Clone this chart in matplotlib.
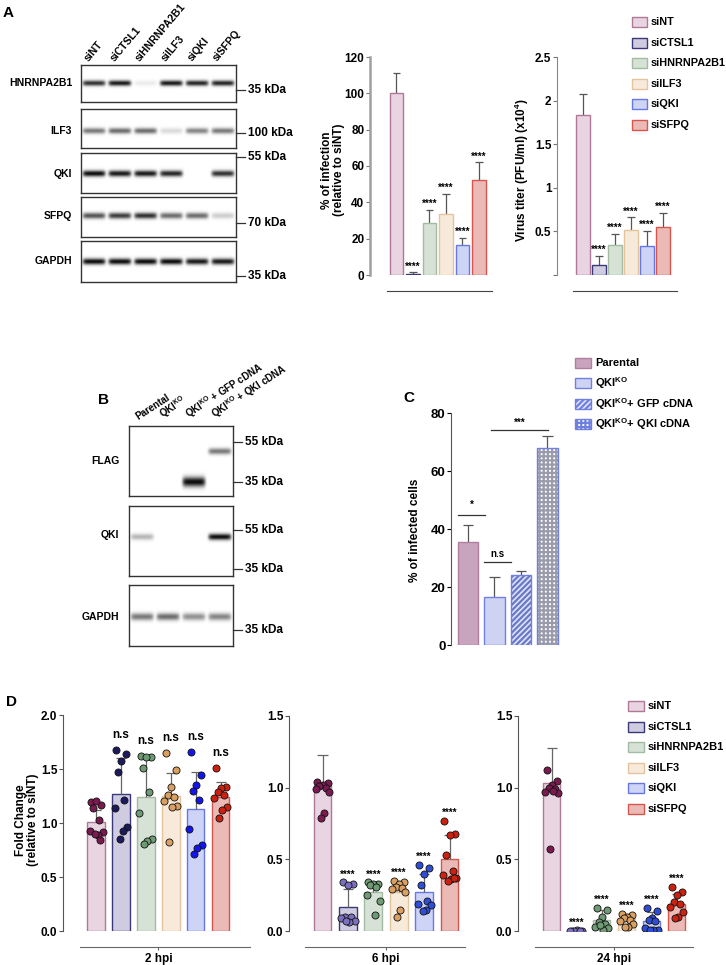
import numpy as np
import matplotlib
matplotlib.use("Agg")
import matplotlib.pyplot as plt
from matplotlib.patches import Rectangle

plt.rcParams['font.family'] = ['Liberation Sans', 'DejaVu Sans']
plt.rcParams['font.weight'] = 'bold'
plt.rcParams['mathtext.fontset'] = 'custom'
plt.rcParams['mathtext.rm'] = 'Liberation Sans:bold'
plt.rcParams['mathtext.it'] = 'Liberation Sans:bold'
plt.rcParams['mathtext.bf'] = 'Liberation Sans:bold'
plt.rcParams['hatch.linewidth'] = 1.6

# ---- data ----
groups = ["siNT", "siCTSL1", "siHNRNPA2B1", "siILF3", "siQKI", "siSFPQ"]

# panel A bar charts
infection_mean = [100, 0.8, 28.5, 33.5, 16.5, 52.5]
infection_sd = [11, 0.6, 7.5, 11, 4, 9.5]
titer_mean = [1.84, 0.12, 0.34, 0.52, 0.33, 0.55]
titer_sd = [0.24, 0.10, 0.13, 0.14, 0.18, 0.16]

# panel A blot band intensities (0 = none, 1 = saturated)
hnrnpa2b1_band = [0.85, 0.95, 0.08, 0.95, 0.9, 0.9]
ilf3_band = [0.55, 0.6, 0.6, 0.15, 0.5, 0.55]
qki_band = [1.0, 0.95, 0.95, 0.9, 0.0, 0.85]
sfpq_band = [0.7, 0.8, 0.85, 0.6, 0.6, 0.2]
gapdh_band = [1.0, 1.0, 1.0, 1.0, 0.95, 0.95]

# panel B
b_lanes = ["Parental", "QKI$^{KO}$", "QKI$^{KO}$ + GFP cDNA", "QKI$^{KO}$ + QKI cDNA"]
flag35_band = [0.0, 0.0, 1.0, 0.0]
flag55_band = [0.0, 0.0, 0.0, 0.55]
qki_b_band = [0.3, 0.0, 0.0, 1.0]
gapdh_b_band = [0.55, 0.6, 0.45, 0.5]

# panel C
c_labels = ["Parental", "QKI$^{KO}$", "QKI$^{KO}$+ GFP cDNA", "QKI$^{KO}$+ QKI cDNA"]
c_mean = [35.5, 16.5, 24.0, 68.0]
c_sd = [6.0, 7.0, 1.5, 4.0]

# panel D : bar means, SD and single replicates
hpi_labels = ["2 hpi", "6 hpi", "24 hpi"]
d2_mean = [1.01, 1.27, 1.24, 1.25, 1.13, 1.24]
d2_sd = [0.11, 0.33, 0.37, 0.21, 0.34, 0.14]
d2_points = [
    [1.19, 1.17, 1.20, 1.14, 1.03, 0.93, 0.92, 0.89, 0.90, 0.84],
    [1.68, 1.64, 1.57, 1.47, 1.21, 1.14, 0.96, 0.93, 0.85],
    [1.62, 1.61, 1.61, 1.51, 1.29, 1.09, 0.85, 0.83, 0.81],
    [1.65, 1.49, 1.33, 1.26, 1.24, 1.20, 1.16, 1.15, 0.82],
    [1.66, 1.44, 1.35, 1.30, 1.21, 0.94, 0.80, 0.77, 0.71],
    [1.51, 1.33, 1.32, 1.29, 1.26, 1.23, 1.15, 1.12, 1.05],
]
d6_mean = [1.02, 0.165, 0.275, 0.27, 0.275, 0.50]
d6_sd = [0.21, 0.125, 0.06, 0.07, 0.125, 0.17]
d6_points = [
    [1.04, 1.03, 1.02, 1.01, 1.00, 0.99, 0.97, 0.82, 0.79],
    [0.34, 0.33, 0.32, 0.10, 0.10, 0.09, 0.07, 0.06, 0.07],
    [0.34, 0.33, 0.33, 0.32, 0.31, 0.25, 0.21, 0.11],
    [0.35, 0.34, 0.33, 0.31, 0.30, 0.29, 0.27, 0.15, 0.10],
    [0.46, 0.44, 0.40, 0.32, 0.21, 0.19, 0.18, 0.15, 0.14],
    [0.77, 0.68, 0.67, 0.53, 0.42, 0.39, 0.37, 0.36, 0.35, 0.37],
]
d24_mean = [1.03, 0.0, 0.08, 0.09, 0.07, 0.19]
d24_sd = [0.25, 0.0, 0.07, 0.03, 0.06, 0.07]
d24_points = [
    [1.12, 1.05, 1.02, 1.00, 0.99, 0.97, 0.96, 0.98, 0.57],
    [0.0, 0.0, 0.005, 0.0, 0.0, 0.0],
    [0.16, 0.15, 0.10, 0.06, 0.05, 0.03, 0.02, 0.01, 0.04],
    [0.12, 0.11, 0.10, 0.09, 0.08, 0.07, 0.05, 0.03, 0.03],
    [0.16, 0.14, 0.09, 0.08, 0.07, 0.02, 0.01, 0.01, 0.01],
    [0.31, 0.27, 0.25, 0.20, 0.19, 0.17, 0.13, 0.10, 0.09],
]

# ---- style ----
bar_fill = ['#e8d5e1', '#cfcce1', '#d7e2d7', '#f8eadb', '#ced4f5', '#ebbab6']
bar_edge = ['#b07898', '#3a3878', '#a3bba3', '#e3c49c', '#6677e6', '#d6564e']
pt_color_2 = ['#7a1a50', '#1b1a5c', '#6e9a74', '#d9a062', '#1414ee', '#cc2010']
pt_color_late = ['#7a1a50', '#7b70c0', '#6e9a74', '#d9a062', '#2e4ed8', '#cc2010']
jitter = [-0.2, 0.2, 0.0, -0.12, 0.12, -0.26, 0.26, 0.06, -0.06, 0.16]
PT = 72 / 100  # points per pixel

W, H = 726, 965
fig = plt.figure(figsize=(W / 100, H / 100), dpi=100)


def box(x0, y0, x1, y1):
    return fig.add_axes([x0 / W, 1 - y1 / H, (x1 - x0) / W, (y1 - y0) / H])


def draw_blot(x0, y0, x1, y1, rows):
    ax = box(x0, y0, x1, y1)
    n = len(rows[0][0])
    yy = np.linspace(1, 0, 140)[:, None]
    xx = np.linspace(0, n, n * 60)[None, :]
    img = np.zeros((140, n * 60))
    for intens, ypos, sig in rows:
        for i, v in enumerate(intens):
            img += v * np.exp(-((xx - (i + 0.5)) / 0.44) ** 8) * np.exp(-((yy - ypos) / sig) ** 2)
    ax.imshow(np.clip(img, 0, 1), cmap='gray_r', vmin=0, vmax=1.05,
              extent=[0, n, 0, 1], aspect='auto', interpolation='bilinear')
    ax.set_xticks([])
    ax.set_yticks([])
    for s in ax.spines.values():
        s.set_linewidth(1.0)
        s.set_color('#333333')
    return ax


def whiskers(ax, means, sds, capw, color='#555555', z=1):
    for xi, m, s in zip(range(len(means)), means, sds):
        if s <= 0:
            continue
        ax.vlines(xi, m, m + s, color=color, lw=0.9, zorder=z)
        ax.hlines(m + s, xi - capw, xi + capw, color=color, lw=0.9, zorder=z)


# ================= Panel A blots =================
a_rows = [
    (hnrnpa2b1_band, 65, 102, 0.51, "HNRNPA2B1"),
    (ilf3_band, 109, 148, 0.44, "ILF3"),
    (qki_band, 153, 193, 0.475, "QKI"),
    (sfpq_band, 197, 237, 0.52, "SFPQ"),
    (gapdh_band, 241, 282, 0.5, "GAPDH"),
]
for band, ya, yb, pos, name in a_rows:
    draw_blot(81, ya, 236, yb, [(band, pos, 0.075)])

# ================= Panel A bar charts =================
ax1 = box(370, 57, 492, 275)
x = np.arange(len(groups))
ax1.bar(x, infection_mean, 0.82, color=bar_fill, edgecolor=bar_edge, linewidth=1, zorder=2)
whiskers(ax1, infection_mean, infection_sd, 0.22)
for xi, m, s in zip(x, infection_mean, infection_sd):
    if xi > 0:
        ax1.text(xi, m + s + 0.5, "****", ha='center', va='bottom', fontsize=7)
ax1.set_xlim(-1.6, 5.79)
ax1.set_ylim(0, 120)
ax1.set_yticks(range(0, 121, 20))
ax1.spines['top'].set_visible(False)
ax1.spines['right'].set_visible(False)
ax1.spines['left'].set_color('#a0a0a0')
ax1.spines['left'].set_linewidth(1.8)
ax1.spines['bottom'].set_position(('outward', 16 * PT))
ax1.spines['bottom'].set_bounds(-0.58, 5.79)
ax1.spines['bottom'].set_color('#444444')
ax1.set_xticks([])
ax1.tick_params(axis='y', length=3, width=0.8, color='#777777', labelsize=8.5, pad=1)

ax2 = box(557, 57, 677, 275)
ax2.bar(x, titer_mean, 0.86, color=bar_fill, edgecolor=bar_edge, linewidth=1, zorder=2)
whiskers(ax2, titer_mean, titer_sd, 0.22)
for xi, m, s in zip(x, titer_mean, titer_sd):
    if xi > 0:
        ax2.text(xi, m + s + 0.01, "****", ha='center', va='bottom', fontsize=7)
ax2.set_xlim(-1.625, 5.875)
ax2.set_ylim(0, 2.5)
ax2.set_yticks([0, 0.5, 1, 1.5, 2, 2.5])
ax2.set_yticklabels(["", "0.5", "1", "1.5", "2", "2.5"])
ax2.spines['top'].set_visible(False)
ax2.spines['right'].set_visible(False)
ax2.spines['left'].set_color('#888888')
ax2.spines['bottom'].set_position(('outward', 16 * PT))
ax2.spines['bottom'].set_bounds(-0.625, 5.875)
ax2.spines['bottom'].set_color('#444444')
ax2.set_xticks([])
ax2.tick_params(axis='y', length=3, width=0.8, color='#777777', labelsize=8.5, pad=1)

# ================= Panel B blots =================
draw_blot(129, 426, 233, 496, [(flag35_band, 0.2, 0.07), (flag55_band, 0.64, 0.045)])
draw_blot(129, 506, 233, 576, [(qki_b_band, 0.56, 0.045)])
draw_blot(129, 585, 233, 646, [(gapdh_b_band, 0.48, 0.06)])

# ================= Panel C =================
axc = box(451, 413, 562, 645)
xc = np.arange(len(c_mean))
c_fill = ['#c9a4be', '#ced3f3', '#dfe2f6', '#ffffff']
c_edge = ['#b07fa0', '#7080e0', '#6a78c8', '#9a9cac']
c_hatch = [None, None, '//////', '++++']
for xi, m, f, e, h in zip(xc, c_mean, c_fill, c_edge, c_hatch):
    axc.bar(xi, m, 0.77, color=f, edgecolor=e, hatch=h, linewidth=0.0 if h else 1, zorder=2)
    if h:
        axc.bar(xi, m, 0.77, color='none', edgecolor='#7080e0', linewidth=1, zorder=3)
whiskers(axc, c_mean, c_sd, 0.2)
axc.plot([-0.38, 0.64], [44.8, 44.8], color='#333333', lw=0.9)
axc.text(0.13, 46.5, "*", ha='center', va='bottom', fontsize=7)
axc.plot([0.6, 1.62], [28.6, 28.6], color='#333333', lw=0.9)
axc.text(1.11, 29.5, "n.s", ha='center', va='bottom', fontsize=7)
axc.plot([0.87, 3.02], [74.1, 74.1], color='#333333', lw=0.9)
axc.text(1.95, 75.0, "***", ha='center', va='bottom', fontsize=7)
axc.set_xlim(-0.64, 3.55)
axc.set_ylim(0, 80)
axc.set_yticks(range(0, 81, 20))
for s in ['top', 'right', 'bottom']:
    axc.spines[s].set_visible(False)
axc.spines['left'].set_color('#555555')
axc.set_xticks([])
axc.tick_params(axis='y', length=3, width=0.8, labelsize=9.5, pad=1)

# ================= Panel D =================
d_sets = [
    (63, 715, 250, 2.0, d2_mean, d2_sd, d2_points, pt_color_2, True),
    (289, 716, 465, 1.5, d6_mean, d6_sd, d6_points, pt_color_late, False),
    (518, 716, 693, 1.5, d24_mean, d24_sd, d24_points, pt_color_late, False),
]
d_xlims = [(-1.33, 6.18), (-1.32, 5.61), (-1.34, 5.65)]
d_bounds = [(-0.64, 6.18), (-0.69, 5.61), (-0.67, 5.65)]
for k, (xa, ytop, xb, ymax, means, sds, pts, pcol, ns) in enumerate(d_sets):
    ax = box(xa, ytop, xb, 931)
    ax.bar(x, means, 0.7, color=bar_fill, edgecolor=bar_edge, linewidth=1, zorder=1)
    whiskers(ax, means, sds, 0.2, color='#666666', z=2)
    for xi, vals, c in zip(x, pts, pcol):
        offs = [xi + jitter[j % len(jitter)] for j in range(len(vals))]
        ax.scatter(offs, vals, s=26, color=c, edgecolor='#111111', linewidth=0.6, zorder=3)
        if xi == 0:
            continue
        top = max(max(vals), means[xi] + sds[xi])
        if ns:
            ax.text(xi, max(vals) + 0.08, "n.s", ha='center', va='bottom', fontsize=8.5)
        else:
            ax.text(xi, top + 0.02, "****", ha='center', va='bottom', fontsize=7)
    ax.set_xlim(*d_xlims[k])
    ax.set_ylim(0, ymax)
    ax.set_yticks(np.arange(0, ymax + 0.01, 0.5))
    ax.set_yticklabels([f"{v:.1f}" for v in np.arange(0, ymax + 0.01, 0.5)])
    ax.spines['top'].set_visible(False)
    ax.spines['right'].set_visible(False)
    ax.spines['left'].set_color('#555555')
    ax.spines['left'].set_linewidth(0.8)
    ax.spines['bottom'].set_position(('outward', 16 * PT))
    ax.spines['bottom'].set_bounds(*d_bounds[k])
    ax.spines['bottom'].set_color('#666666')
    ax.spines['bottom'].set_linewidth(0.8)
    ax.set_xticks([2.5])
    ax.set_xticklabels([hpi_labels[k]])
    ax.tick_params(axis='x', length=2.5, width=0.8, color='#666666', labelsize=8.5, pad=1.5)
    ax.tick_params(axis='y', length=3, width=0.8, color='#555555', labelsize=8.5, pad=1)

# ================= overlay text =================
ov = fig.add_axes([0, 0, 1, 1])
ov.set_xlim(0, W)
ov.set_ylim(H, 0)
ov.axis('off')

for letter, (lx, ly) in zip("ABCD", [(3, 13), (98, 400), (403, 398), (6, 702)]):
    ov.text(lx, ly, letter, fontsize=11, ha='left', va='center')

# A lane labels
for i, g in enumerate(groups):
    cx = 81 + (i + 0.5) * 155 / 6
    ov.text(cx - 4, 63, g, rotation=50, rotation_mode='anchor', ha='left', va='bottom', fontsize=7.5)
for band, ya, yb, pos, name in a_rows:
    ov.text(72, yb - pos * (yb - ya), name, ha='right', va='center', fontsize=7.5)
for yk, lab in [(90, "35 kDa"), (133, "100 kDa"), (157, "55 kDa"), (223, "70 kDa"), (276, "35 kDa")]:
    ov.plot([236, 245], [yk, yk], color='#333333', lw=0.9)
    ov.text(248, yk, lab, ha='left', va='center', fontsize=8.5)

ov.text(333, 170, "% of infection\n(relative to siNT)", rotation=90, ha='center', va='center',
        fontsize=8.5, linespacing=1.1)
ov.text(522, 170, "Virus titer (PFU/ml) (x10$^4$)", rotation=90, ha='center', va='center', fontsize=8.5)

for i, g in enumerate(groups):
    yy = 22 + i * 20.6
    ov.add_patch(Rectangle((632, yy - 5), 15, 10, facecolor=bar_fill[i], edgecolor=bar_edge[i], lw=1))
    ov.text(651, yy, g, ha='left', va='center', fontsize=7.8)

# B labels
for i, g in enumerate(b_lanes):
    cx = 129 + (i + 0.5) * 104 / 4
    ov.text(cx - 3, 422, g, rotation=33, rotation_mode='anchor', ha='left', va='bottom', fontsize=7)
for name, yy in [("FLAG", 461), ("QKI", 535), ("GAPDH", 617)]:
    ov.text(119, yy, name, ha='right', va='center', fontsize=7.5)
for yk, lab in [(442, "55 kDa"), (482, "35 kDa"), (530, "55 kDa"), (569, "35 kDa"), (630, "35 kDa")]:
    ov.plot([233, 242], [yk, yk], color='#333333', lw=0.9)
    ov.text(245, yk, lab, ha='left', va='center', fontsize=8.5)

# C labels
ov.text(415, 530, "% of infected cells", rotation=90, ha='center', va='center', fontsize=8.5)
for i, lab in enumerate(c_labels):
    yy = 363 + i * 20.4
    ov.add_patch(Rectangle((575, yy - 5), 16, 10, facecolor=c_fill[i], edgecolor='#7080e0' if i else c_edge[0],
                           hatch=c_hatch[i], lw=1))
    ov.text(595, yy, lab, ha='left', va='center', fontsize=8)

# D labels
ov.text(27, 820, "Fold Change\n(relative to siNT)", rotation=90, ha='center', va='center',
        fontsize=8.5, linespacing=1.1)
for i, g in enumerate(groups):
    yy = 706 + i * 20.6
    ov.add_patch(Rectangle((628, yy - 5), 16, 10, facecolor=bar_fill[i], edgecolor=bar_edge[i], lw=1))
    ov.text(648, yy, g, ha='left', va='center', fontsize=8)

fig.savefig("out.png", dpi=100)
